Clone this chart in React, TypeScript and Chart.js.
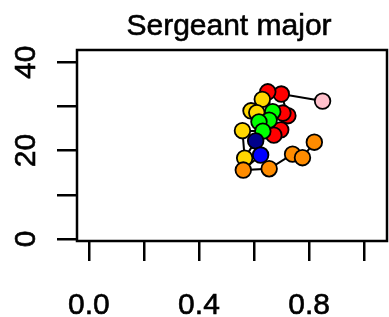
import React, { useEffect, useRef } from "react";
import { Chart, registerables } from "chart.js";

Chart.register(...registerables);

const titleText = "Sergeant major";
const xTicks = [0, 0.2, 0.4, 0.6, 0.8, 1.0];
const xTickLabels = ["0.0", "", "0.4", "", "0.8", ""];
const yTicks = [0, 10, 20, 30, 40];
const yTickLabels = ["0", "", "20", "", "40"];

const xValues = [
  0.849, 0.699, 0.723, 0.705, 0.697, 0.672, 0.65, 0.63, 0.589, 0.61, 0.668,
  0.655, 0.618, 0.632, 0.558, 0.566, 0.606, 0.624, 0.561, 0.655, 0.74, 0.776,
  0.819,
];
const yValues = [
  31.2, 32.8, 27.9, 28.5, 24.7, 23.5, 33.3, 31.6, 29.0, 28.6, 28.8, 26.9, 26.5,
  24.4, 24.5, 18.3, 22.2, 19.0, 15.6, 15.9, 19.2, 18.4, 21.9,
];
const pointColors = [
  "#FFC0CB", "#FF0000", "#FF0000", "#FF0000", "#FF0000", "#FF0000", "#FF0000",
  "#FFD700", "#FFD700", "#FFD700", "#00FF00", "#00FF00", "#00FF00", "#00FF00",
  "#FFD700", "#FFD700", "#00008B", "#0000FF", "#FF8C00", "#FF8C00", "#FF8C00",
  "#FF8C00", "#FF8C00",
];

const FONT = "30px 'Liberation Sans', Arial, sans-serif";

const textPlugin = {
  id: "rtexts",
  afterDraw(chart: any) {
    const ctx = chart.ctx;
    const a = chart.chartArea;
    ctx.save();
    ctx.strokeStyle = "#000";
    ctx.lineWidth = 2.5;
    ctx.strokeRect(a.left, a.top, a.right - a.left, a.bottom - a.top);
    ctx.fillStyle = "#000";
    ctx.font = FONT;
    ctx.lineWidth = 0.6;
    ctx.textAlign = "center";
    ctx.textBaseline = "alphabetic";
    const put = (t: string, x: number, y: number) => {
      ctx.fillText(t, x, y);
      ctx.strokeText(t, x, y);
    };
    put(titleText, 229, 35);
    const xs = chart.scales.x;
    xTicks.forEach((v, i) => {
      if (xTickLabels[i]) put(xTickLabels[i], xs.getPixelForValue(v), 314);
    });
    const ys = chart.scales.y;
    yTicks.forEach((v, i) => {
      if (!yTickLabels[i]) return;
      ctx.save();
      ctx.translate(35, ys.getPixelForValue(v));
      ctx.rotate(-Math.PI / 2);
      put(yTickLabels[i], 0, 0);
      ctx.restore();
    });
    ctx.restore();
  },
};

export default function App() {
  const ref = useRef<HTMLCanvasElement | null>(null);
  useEffect(() => {
    document.body.style.margin = "0";
    const canvas = ref.current!;
    const data = xValues.map((x, i) => ({ x, y: yValues[i] }));
    const chart = new Chart(canvas, {
      type: "line",
      data: {
        datasets: [
          {
            data,
            showLine: true,
            borderColor: "#000",
            borderWidth: 2,
            pointBackgroundColor: pointColors,
            pointBorderColor: "#000",
            pointBorderWidth: 1.8,
            pointRadius: 7.8,
            tension: 0,
          },
        ],
      },
      options: {
        animation: false,
        responsive: false,
        layout: { autoPadding: false, padding: { top: 50, right: 2, left: 0, bottom: 0 } },
        plugins: { legend: { display: false }, tooltip: { enabled: false }, title: { display: false } },
        scales: {
          x: {
            type: "linear",
            min: -0.043,
            max: 1.083,
            afterBuildTicks: (s: any) => {
              s.ticks = xTicks.map((v) => ({ value: v }));
            },
            afterFit: (s: any) => {
              s.height = 76;
            },
            ticks: { display: false },
            grid: { drawOnChartArea: false, drawTicks: true, tickLength: 20, color: "#000", lineWidth: 2.5 },
            border: { display: false },
          },
          y: {
            type: "linear",
            min: -0.45,
            max: 42.76,
            afterBuildTicks: (s: any) => {
              s.ticks = yTicks.map((v) => ({ value: v }));
            },
            afterFit: (s: any) => {
              s.width = 77;
            },
            ticks: { display: false },
            grid: { drawOnChartArea: false, drawTicks: true, tickLength: 20, color: "#000", lineWidth: 2.5 },
            border: { display: false },
          },
        },
      },
      plugins: [textPlugin],
    });
    return () => chart.destroy();
  }, []);
  return <canvas ref={ref} width={389} height={317} style={{ display: "block" }} />;
}
